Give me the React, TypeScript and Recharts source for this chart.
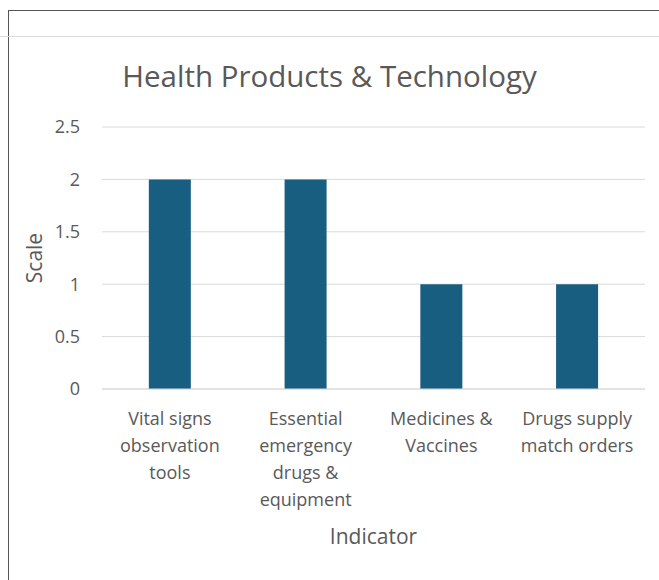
import { BarChart, Bar, XAxis, YAxis, CartesianGrid } from "recharts";

const categories = [
  "Vital signs|observation|tools",
  "Essential|emergency|drugs &|equipment",
  "Medicines &|Vaccines",
  "Drugs supply|match orders",
];
const scaleValues = [2, 2, 1, 1];
const yTicks = [0, 0.5, 1, 1.5, 2, 2.5];

const FONT = "'Open Sans', Lato, sans-serif";
const GREY = "#595959";

const data = categories.map((c, i) => ({ name: c, value: scaleValues[i] }));

function CategoryTick(props: any) {
  const { x, y, payload } = props;
  const lines = String(payload.value).split("|");
  return (
    <text x={x} y={y} textAnchor="middle" fill={GREY} fontSize={18} fontFamily={FONT}>
      {lines.map((ln, i) => (
        <tspan key={i} x={x} dy={i === 0 ? 28 : 27}>
          {ln}
        </tspan>
      ))}
    </text>
  );
}

function ScaleLabel(props: any) {
  const vb = props.viewBox || {};
  const cy = vb.y + vb.height / 2;
  return (
    <text x={34} y={cy} transform={`rotate(-90 34 ${cy})`} textAnchor="middle" dominantBaseline="central" fill={GREY} fontSize={21} fontFamily={FONT}>
      Scale
    </text>
  );
}

export default function App() {
  return (
    <div style={{ position: "fixed", left: 0, top: 0, width: 659, height: 580, background: "#fff" }}>
      <div style={{ position: "absolute", left: 8, top: 10, right: 0, bottom: 0, borderLeft: "1px solid #555", borderTop: "1px solid #555" }} />
      <div style={{ position: "absolute", left: 0, top: 36, width: 659, height: 1, background: "#d9d9d9" }} />
      <div
        style={{
          position: "absolute",
          left: 0,
          top: 56,
          width: 659,
          textAlign: "center",
          fontFamily: FONT,
          fontSize: 29.5,
          color: GREY,
          lineHeight: "40px",
        }}
      >
        Health Products &amp; Technology
      </div>
      <div style={{ position: "absolute", left: 0, top: 0 }}>
        <BarChart width={659} height={580} data={data} margin={{ top: 127, right: 14, bottom: 0, left: 0 }} barCategoryGap="34.5%">
          <CartesianGrid vertical={false} stroke="#d9d9d9" />
          <XAxis
            dataKey="name"
            axisLine={{ stroke: "#d9d9d9" }}
            tickLine={false}
            height={191}
            interval={0}
            tick={<CategoryTick />}
            label={{ value: "Indicator", position: "insideTop", offset: 140, fill: GREY, fontSize: 21, fontFamily: FONT }}
          />
          <YAxis
            domain={[0, 2.5]}
            ticks={yTicks}
            width={102}
            axisLine={false}
            tickLine={false}
            tick={{ fill: GREY, fontSize: 18, fontFamily: FONT, dx: -14 }}
            label={<ScaleLabel />}
          />
          <Bar dataKey="value" fill="#175e80" isAnimationActive={false} />
        </BarChart>
      </div>
    </div>
  );
}
